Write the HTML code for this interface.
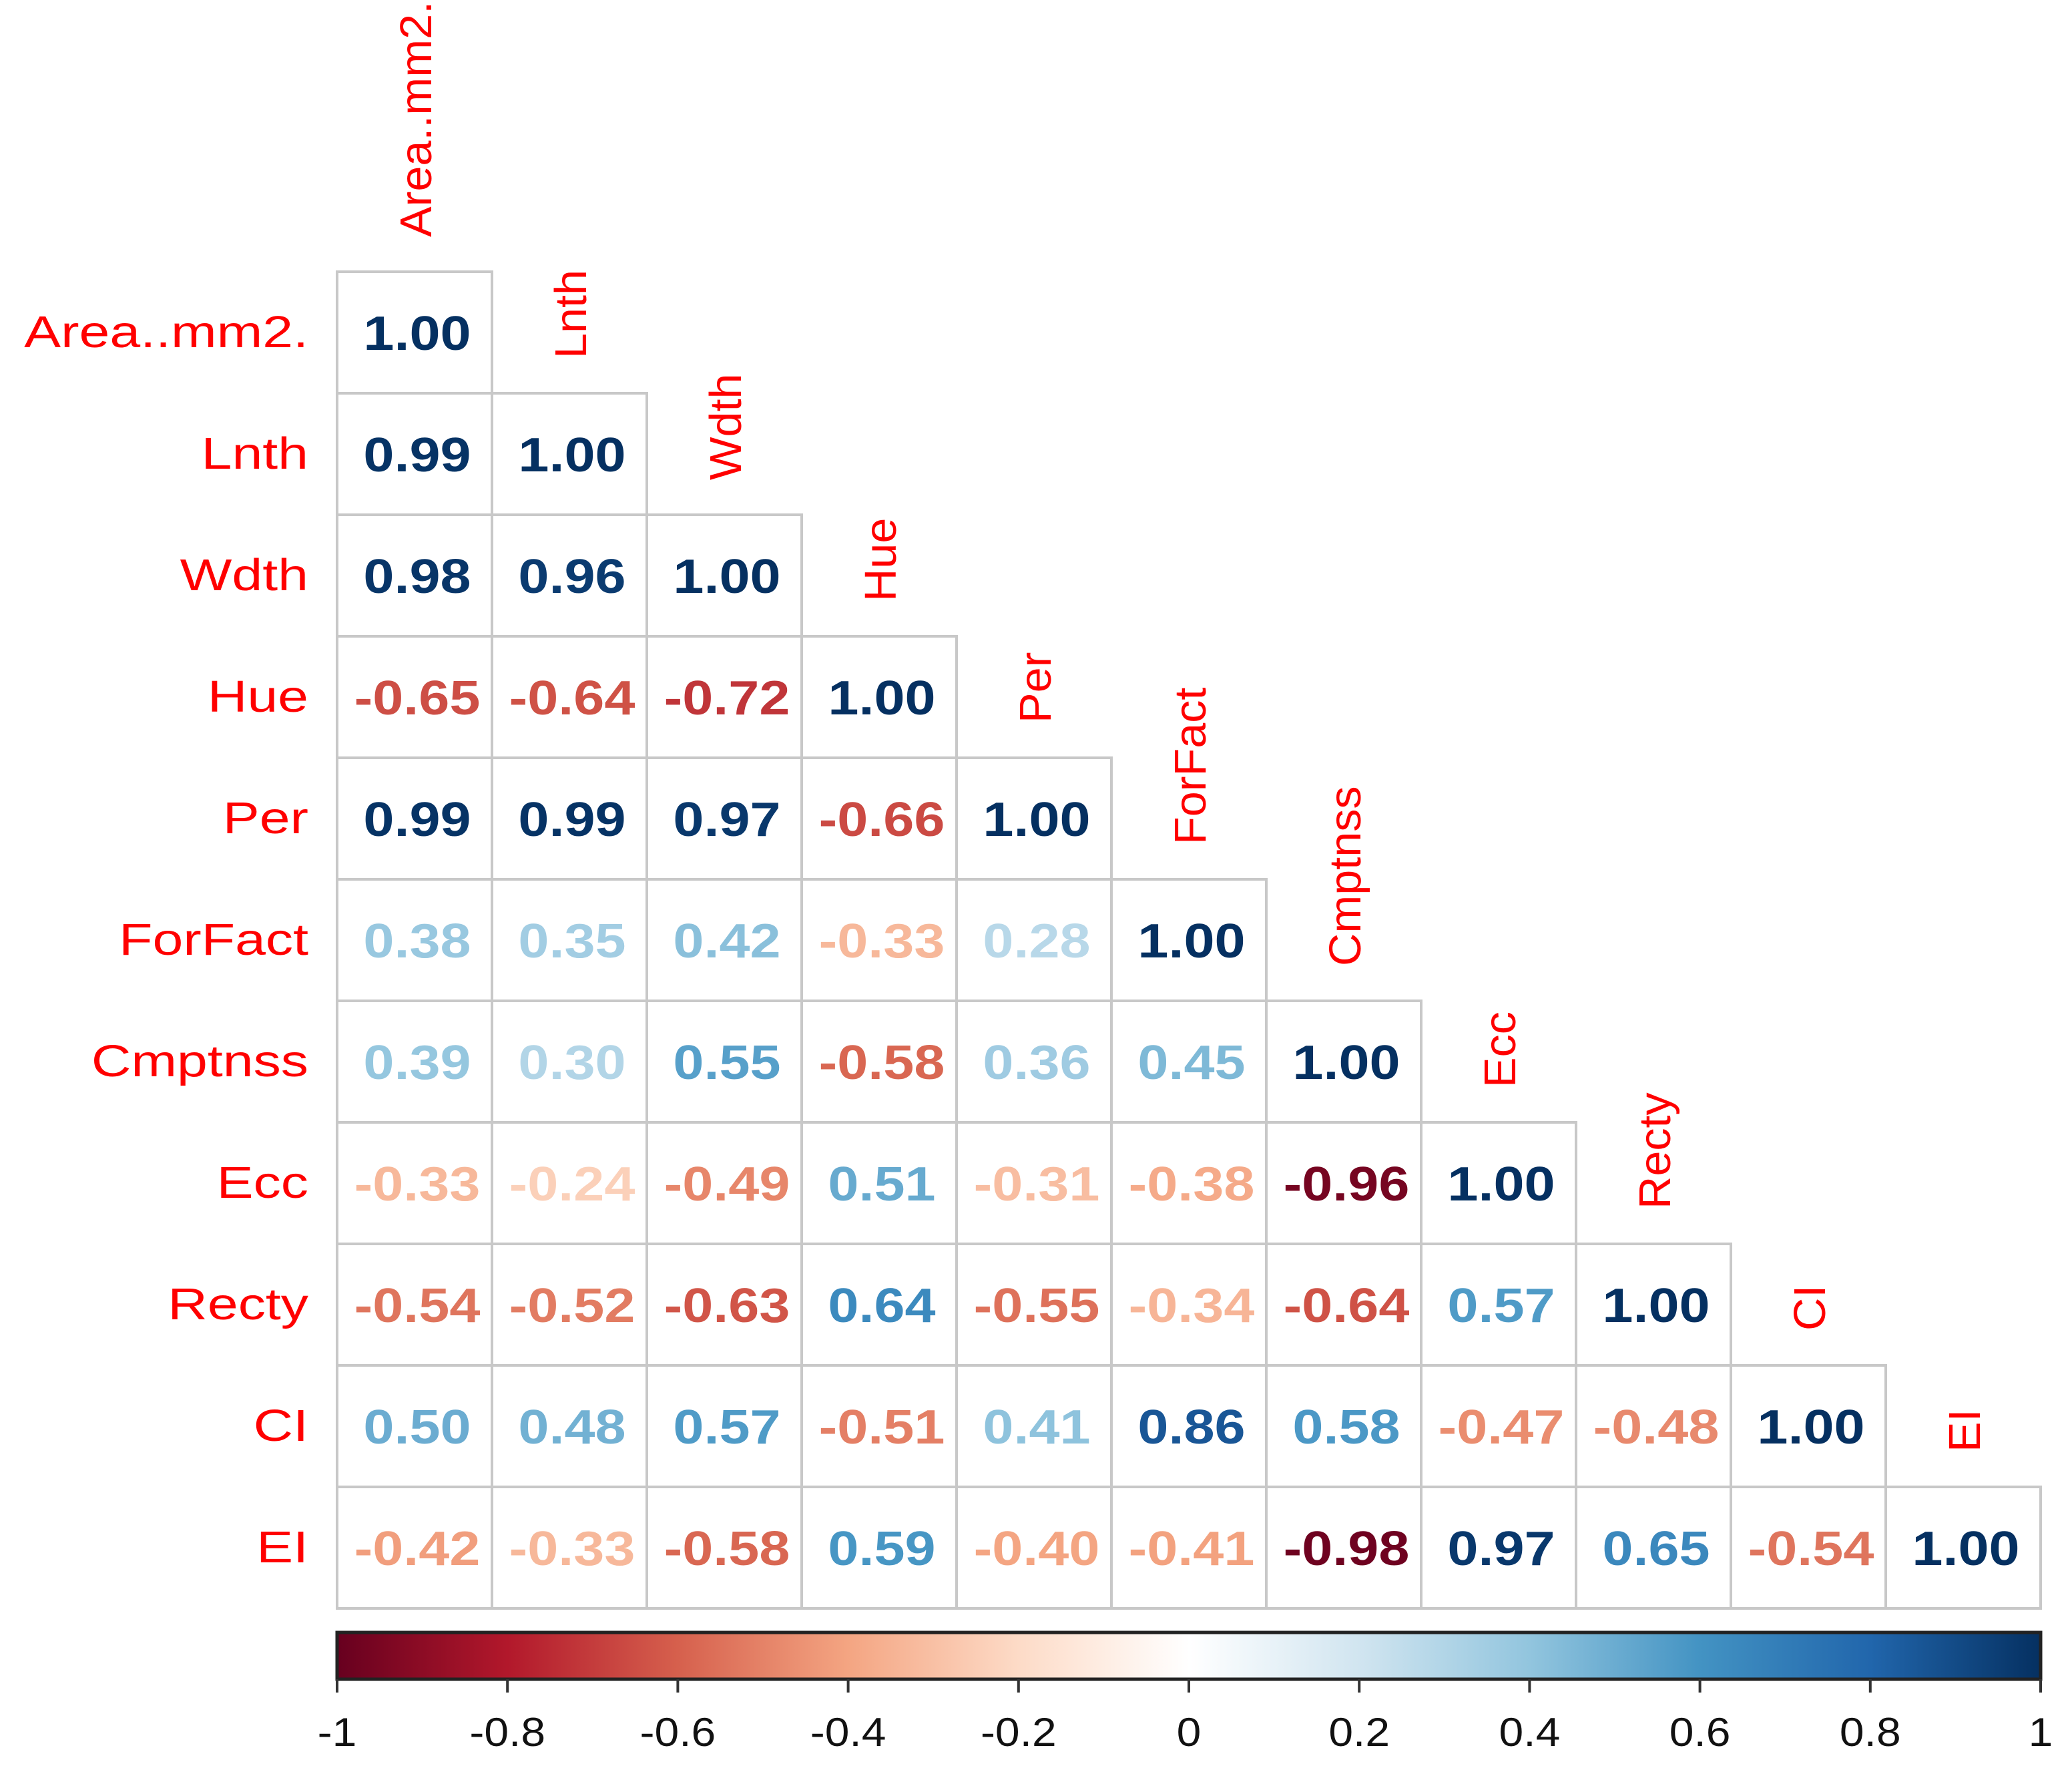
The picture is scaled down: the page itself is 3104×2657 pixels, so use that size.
<!DOCTYPE html>
<html><head><meta charset="utf-8"><style>
html,body{margin:0;padding:0;background:#fff;}
svg{display:block;}
text{font-family:"Liberation Sans",sans-serif;}
</style></head><body>
<svg id="chart" width="3104" height="2657" viewBox="0 0 3104 2657" xmlns="http://www.w3.org/2000/svg">
<defs><linearGradient id="rdbu" x1="0" x2="1" y1="0" y2="0">
<stop offset="0" stop-color="#67001F"/><stop offset="0.1" stop-color="#B2182B"/><stop offset="0.2" stop-color="#D6604D"/><stop offset="0.3" stop-color="#F4A582"/><stop offset="0.4" stop-color="#FDDBC7"/><stop offset="0.5" stop-color="#FFFFFF"/><stop offset="0.6" stop-color="#D1E5F0"/><stop offset="0.7" stop-color="#92C5DE"/><stop offset="0.8" stop-color="#4393C3"/><stop offset="0.9" stop-color="#2166AC"/><stop offset="1" stop-color="#053061"/>
</linearGradient></defs>
<g id="cells"></g><g id="labels"></g>
<rect x="505" y="2445" width="2552" height="70" fill="url(#rdbu)" stroke="#222" stroke-width="5"/>
<g id="ticks"></g>
</svg>
<script>
const variables = ["Area..mm2.","Lnth","Wdth","Hue","Per","ForFact","Cmptnss","Ecc","Recty","CI","EI"];
const corrRows = [
 [1.00],
 [0.99,1.00],
 [0.98,0.96,1.00],
 [-0.65,-0.64,-0.72,1.00],
 [0.99,0.99,0.97,-0.66,1.00],
 [0.38,0.35,0.42,-0.33,0.28,1.00],
 [0.39,0.30,0.55,-0.58,0.36,0.45,1.00],
 [-0.33,-0.24,-0.49,0.51,-0.31,-0.38,-0.96,1.00],
 [-0.54,-0.52,-0.63,0.64,-0.55,-0.34,-0.64,0.57,1.00],
 [0.50,0.48,0.57,-0.51,0.41,0.86,0.58,-0.47,-0.48,1.00],
 [-0.42,-0.33,-0.58,0.59,-0.40,-0.41,-0.98,0.97,0.65,-0.54,1.00]
];
const colorTicks = [-1,-0.8,-0.6,-0.4,-0.2,0,0.2,0.4,0.6,0.8,1];
const tickLabels = ["-1","-0.8","-0.6","-0.4","-0.2","0","0.2","0.4","0.6","0.8","1"];
const palette = ["#67001F","#B2182B","#D6604D","#F4A582","#FDDBC7","#FFFFFF","#D1E5F0","#92C5DE","#4393C3","#2166AC","#053061"];

const NS="http://www.w3.org/2000/svg";
const L=505, T=407, CW=232, RH=182, BARL=505, BARR=3057;
const xCol=j=>L+j*CW, yRow=i=>T+i*RH;
const xBar=v=>BARL+(v+1)/2*(BARR-BARL);
function hex(h){return [1,3,5].map(k=>parseInt(h.substr(k,2),16));}
function colorOf(v){
  let t=(v+1)/2*10; let i=Math.min(9,Math.floor(t)); let f=t-i;
  const a=hex(palette[i]), b=hex(palette[i+1]);
  return "rgb("+a.map((c,k)=>Math.round(c+(b[k]-c)*f)).join(",")+")";
}
function mk(tag,attrs,parent){const e=document.createElementNS(NS,tag);for(const k in attrs)e.setAttribute(k,attrs[k]);parent.appendChild(e);return e;}
const cells=document.getElementById('cells'), labels=document.getElementById('labels'), ticks=document.getElementById('ticks');

corrRows.forEach((row,i)=>{
  row.forEach((v,j)=>{
    const r=mk('rect',{x:xCol(j),y:yRow(i),width:CW,height:RH,fill:'#fff',stroke:'#c8c8c8','stroke-width':4},cells);
    
    
    const g=mk('g',{transform:'translate('+(xCol(j)+CW/2+4)+','+(yRow(i)+RH/2+26)+') scale(1.15,1)'},cells);
    const t=mk('text',{x:0,y:0,'text-anchor':'middle','font-size':72,'font-weight':'bold',fill:colorOf(v)},g);
    t.textContent=v.toFixed(2);
    
    
  });
});
variables.forEach((name,i)=>{
  const g=mk('g',{transform:'translate(462,'+(yRow(i)+RH/2+22)+') scale(1.23,1)'},labels);
  const t=mk('text',{x:0,y:0,'text-anchor':'end','font-size':67,fill:'#ff0000'},g);
  t.textContent=name;
  
  
  const g2=mk('g',{transform:'translate('+(xCol(i)+CW/2+25)+','+(yRow(i)-52)+') rotate(-90) scale(1.02,1)'},labels);
  const t2=mk('text',{x:0,y:0,'text-anchor':'start','font-size':67,fill:'#ff0000'},g2);
  t2.textContent=name;
  
  
});
colorTicks.forEach((v,k)=>{
  const x=xBar(v);
  const ln=mk('line',{x1:x,x2:x,y1:2515,y2:2535,stroke:'#333','stroke-width':4},ticks);
  
  
  const g=mk('g',{transform:'translate('+x+',2615) scale(1.1,1)'},ticks);
  const t=mk('text',{x:0,y:0,'text-anchor':'middle','font-size':60,fill:'#111'},g);
  t.textContent=tickLabels[k];
  
  
});
</script>
</body></html>
